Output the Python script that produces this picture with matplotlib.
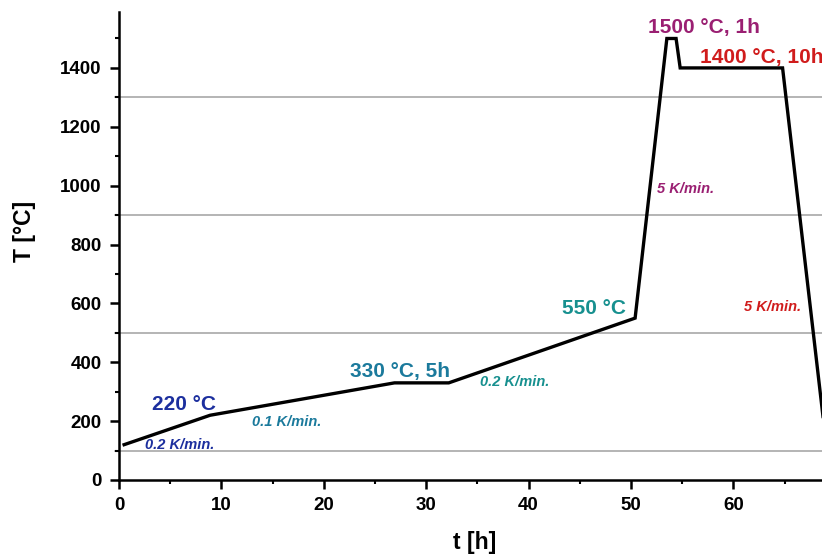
import matplotlib
matplotlib.use("Agg")
import matplotlib.pyplot as plt
from matplotlib.ticker import MultipleLocator

plt.rcParams['font.family'] = ['Liberation Sans', 'DejaVu Sans']

# --- data (temperature program) ---
t_h = [0.5, 8.9, 26.9, 32.2, 50.4, 53.5, 54.4, 54.8, 64.8, 68.8]
T_C = [120, 220, 330, 330, 550, 1500, 1500, 1400, 1400, 200]

ref_lines = [100, 500, 900, 1300]

x_ticks = [0, 10, 20, 30, 40, 50, 60]
y_ticks = [0, 200, 400, 600, 800, 1000, 1200, 1400]

# annotations: text, t, T, color
labels_big = [
    ("220 °C", 3.2, 258, "#1c2f9e"),
    ("330 °C, 5h", 22.6, 368, "#1b7a9c"),
    ("550 °C", 43.3, 584, "#17908f"),
    ("1500 °C, 1h", 51.7, 1539, "#9a1f72"),
    ("1400 °C, 10h", 56.7, 1437, "#d01c1c"),
]
labels_small = [
    ("0.2 K/min.", 2.5, 119, "#1c2f9e"),
    ("0.1 K/min.", 13.0, 198, "#1b7a9c"),
    ("0.2 K/min.", 35.3, 334, "#17908f"),
    ("5 K/min.", 52.5, 987, "#9a1f72"),
    ("5 K/min.", 61.0, 588, "#d01c1c"),
]

fig = plt.figure(figsize=(8.22, 5.55), dpi=100)
ax = fig.add_axes([119/822, 75/555, 703/822, 468/555])

for y in ref_lines:
    ax.axhline(y, xmin=-0.006, color="#a8a8a8", lw=1.2, zorder=1, clip_on=False)

ax.plot(t_h, T_C, color="black", lw=2.4, zorder=3, solid_joinstyle="miter")

for txt, x, y, c in labels_big:
    ax.text(x, y, txt, color=c, fontsize=15, fontweight="bold",
            ha="left", va="center", zorder=4, clip_on=False)
for txt, x, y, c in labels_small:
    ax.text(x, y, txt, color=c, fontsize=10.5, fontweight="bold",
            style="italic", ha="left", va="center", zorder=4)

ax.set_xlim(0, 68.65)
ax.set_ylim(0, 1590)
ax.set_xticks(x_ticks)
ax.set_yticks(y_ticks)
ax.xaxis.set_minor_locator(MultipleLocator(5))
ax.yaxis.set_minor_locator(MultipleLocator(100))

for s in ["top", "right"]:
    ax.spines[s].set_visible(False)
for s in ["left", "bottom"]:
    ax.spines[s].set_linewidth(1.8)

ax.tick_params(which="major", direction="out", length=6.5, width=1.8,
               labelsize=13.5, pad=6)
ax.tick_params(which="minor", direction="out", length=3, width=1.5)
for lab in ax.get_xticklabels() + ax.get_yticklabels():
    lab.set_fontweight("bold")

ax.set_xlabel("t [h]", fontsize=16.5, fontweight="bold", va="center")
ax.set_ylabel("T [°C]", fontsize=16.5, fontweight="bold", va="center")
ax.xaxis.set_label_coords((475-119)/703, -(542-480)/468)
ax.yaxis.set_label_coords((24-119)/703, (480-231)/468)

fig.savefig("out.png", dpi=100, facecolor="white")
